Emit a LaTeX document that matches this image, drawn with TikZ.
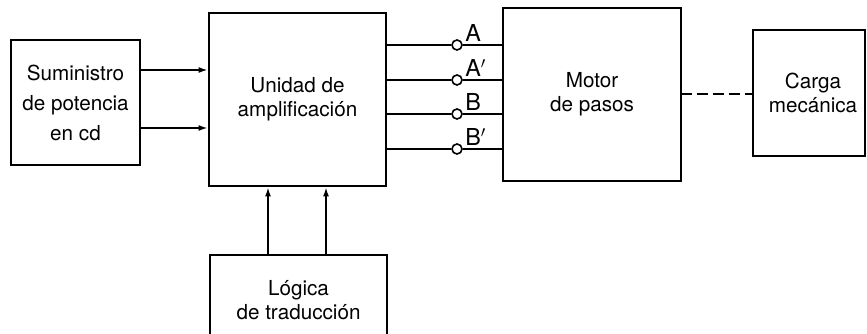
\documentclass[tikz,border=0pt]{standalone}
\usepackage{fontspec}
\setmainfont{TeX Gyre Heros}
\usetikzlibrary{arrows.meta}
\begin{document}
\begin{tikzpicture}[x=0.75pt,y=-0.75pt,
  blk/.style={draw,line width=1.6pt,rectangle,inner sep=0pt,align=center,
    font=\fontsize{15.5}{18}\selectfont},
  wire/.style={line width=1.5pt},
  arr/.style={wire,-{Latex[length=7pt,width=4.5pt]}},
  term/.style={draw,circle,line width=1.2pt,fill=white,minimum size=7.5pt,inner sep=0pt},
  lbl/.style={font=\fontsize{17.5}{20}\selectfont,inner sep=0pt,anchor=west}]
\useasboundingbox (0,0) rectangle (867,334);
\clip (0,0) rectangle (867,334);
% blocks
\node[blk,minimum width=96.75pt,minimum height=93.75pt,
  font=\fontsize{15.5}{22.5}\selectfont] (supply) at (75.5,102.5)
  {Suministro\\de potencia\\en cd};
\node[blk,minimum width=132.75pt,minimum height=129.75pt] (amp) at (297.5,99.5)
  {Unidad de\\amplificación};
\node[blk,minimum width=133.5pt,minimum height=129.75pt] (motor) at (592,94.5)
  {Motor\\de pasos};
\node[blk,minimum width=84pt,minimum height=94.5pt] (load) at (809,93)
  {\hspace*{6pt}Carga\\\hspace*{6pt}mecánica};
\node[blk,minimum width=132.75pt,minimum height=67.5pt] (logic) at (298.5,300)
  {Lógica\\de traducción};
% supply -> amp
\coordinate (s1) at (140,70);
\coordinate (s2) at (140,128);
\draw[arr] (s1) -- (s1 -| amp.west);
\draw[arr] (s2) -- (s2 -| amp.west);
% logic -> amp
\coordinate (l1) at (268,255);
\coordinate (l2) at (326,255);
\draw[arr] (l1) -- (l1 |- amp.south);
\draw[arr] (l2) -- (l2 |- amp.south);
% amp -> motor with terminals
\foreach \i/\y/\t in {1/45/A,2/80/{A$'$},3/114/B,4/149/{B$'$}}{
  \node[term] (c\i) at (457,\y) {};
  \draw[wire] (c\i -| amp.east) -- (c\i.west);
  \draw[wire] (c\i.east) -- (c\i -| motor.west);
  \node[lbl] (t\i) at (465,\y-12) {\t};
}
% motor -- load (mechanical)
\coordinate (m1) at (681,94);
\draw[wire,dash pattern=on 8pt off 4pt] (m1) -- (m1 -| load.west);
\end{tikzpicture}
\end{document}
